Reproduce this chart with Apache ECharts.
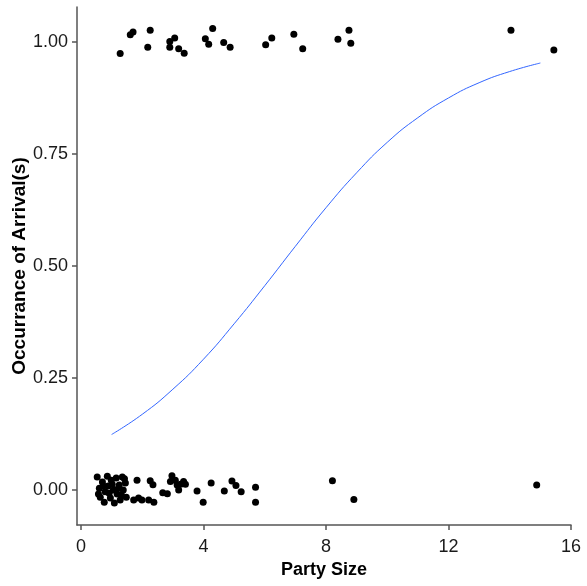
<!DOCTYPE html>
<html>
<head>
<meta charset="utf-8">
<script src="https://cdn.jsdelivr.net/npm/echarts@6/dist/echarts.min.js"></script>
<style>
html,body{margin:0;padding:0;background:#fff;}
#chart{width:587px;height:586px;}
</style>
</head>
<body>
<div id="chart"></div>
<script>
// Jittered observations: arrivals (y ~ 1)
const arrivedX = [1.28,1.61,1.70,2.26,2.18,2.90,2.90,3.06,3.19,3.37,4.30,4.06,4.17,4.66,4.87,6.03,6.23,6.95,7.24,8.39,8.75,8.81,14.04,15.44];
const arrivedY = [0.974,1.016,1.022,1.026,0.988,1.001,0.988,1.009,0.985,0.975,1.030,1.007,0.995,0.999,0.988,0.994,1.009,1.017,0.985,1.006,1.026,0.997,1.026,0.982];
// Jittered observations: no arrival (y ~ 0)
const noArrivalX = [0.53,0.60,0.63,0.70,0.76,0.79,0.86,0.89,0.96,0.99,1.06,1.09,1.15,1.18,1.25,1.28,1.35,1.38,1.45,1.48,0.57,0.73,0.92,1.02,1.22,1.32,1.42,
  1.83,1.72,1.88,1.99,2.26,2.35,2.21,2.38,2.67,2.82,2.97,2.92,3.08,3.14,3.25,3.35,3.41,3.19,3.79,3.99,4.25,4.68,4.93,5.06,5.23,5.70,5.70,8.21,8.91,14.88];
const noArrivalY = [0.029,0.004,-0.016,0.018,-0.027,-0.004,0.031,0.009,-0.018,0.022,0.000,-0.029,0.027,-0.009,0.011,-0.022,0.029,0.000,0.016,-0.016,-0.009,0.009,-0.007,0.013,0.004,-0.011,0.025,
  0.022,-0.022,-0.018,-0.022,0.021,0.012,-0.022,-0.027,-0.006,-0.008,0.032,0.019,0.022,0.011,0.013,0.019,0.013,0.000,-0.002,-0.027,0.016,-0.002,0.020,0.010,-0.004,0.006,-0.027,0.021,-0.021,0.011];
// Fitted curve
const curveX = [1,2,3,4,5,6,7,8,9,10,11,12,13,14,15];
const curveY = [0.124,0.169,0.225,0.292,0.371,0.456,0.544,0.630,0.708,0.776,0.831,0.875,0.909,0.934,0.953];
// Tick labels
const xTicks = [0,4,8,12,16];
const yTicks = [0,0.25,0.5,0.75,1];

const pts = [];
arrivedX.forEach((x,i)=>pts.push([x, arrivedY[i]]));
noArrivalX.forEach((x,i)=>pts.push([x, noArrivalY[i]]));
const curve = curveX.map((x,i)=>[x, curveY[i]]);

const axisColor = '#555555';
const chart = echarts.init(document.getElementById('chart'), null, {renderer:'canvas'});
chart.setOption({
  animation:false,
  backgroundColor:'#ffffff',
  grid:{left:77, top:7, right:16, bottom:61, containLabel:false, outerBoundsMode:'none'},
  xAxis:{
    type:'value', min:-0.13, max:16,
    name:'Party Size', nameLocation:'middle', nameGap:36, nameMoveOverlap:false,
    nameTextStyle:{fontFamily:'Liberation Sans', fontWeight:'bold', fontSize:18, color:'#000'},
    axisLine:{show:true, onZero:false, lineStyle:{color:axisColor, width:1.5}},
    axisTick:{show:true, length:5, customValues:xTicks, lineStyle:{color:axisColor, width:1.5}},
    axisLabel:{customValues:xTicks, fontFamily:'Liberation Sans', fontSize:18, color:'#1a1a1a', margin:13},
    splitLine:{show:false}
  },
  yAxis:{
    type:'value', min:-0.078, max:1.078,
    name:'Occurrance of Arrival(s)', nameLocation:'middle', nameGap:48, nameRotate:90, nameMoveOverlap:false,
    nameTextStyle:{fontFamily:'Liberation Sans', fontWeight:'bold', fontSize:19, color:'#000'},
    axisLine:{show:true, onZero:false, lineStyle:{color:axisColor, width:1.5}},
    axisTick:{show:true, length:5, customValues:yTicks, lineStyle:{color:axisColor, width:1.5}},
    axisLabel:{customValues:yTicks, fontFamily:'Liberation Sans', fontSize:18, color:'#1a1a1a', margin:9,
      formatter:v=>v.toFixed(2)},
    splitLine:{show:false}
  },
  series:[
    {type:'scatter', data:pts, symbol:'circle', symbolSize:7, itemStyle:{color:'#000', opacity:1}, z:3},
    {type:'line', data:curve, showSymbol:false, smooth:true, lineStyle:{color:'#3366FF', width:1}, z:2}
  ]
});
</script>
</body>
</html>
